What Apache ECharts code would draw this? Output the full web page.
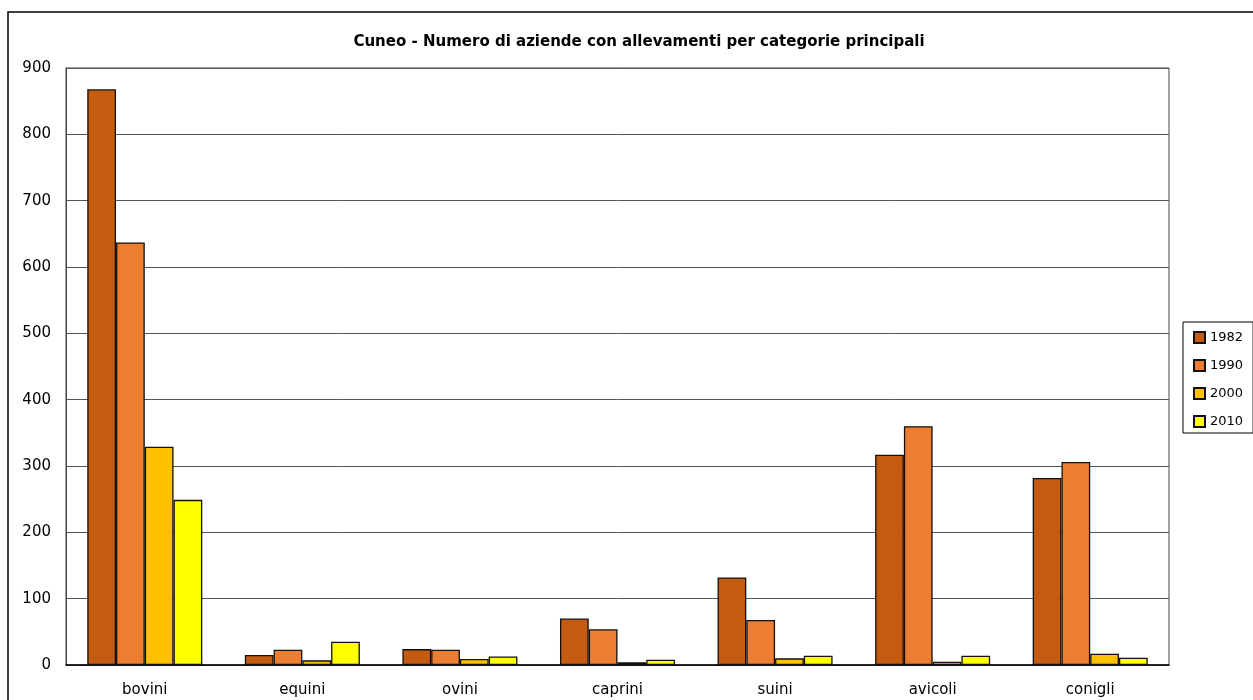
<!DOCTYPE html>
<html>
<head>
<meta charset="utf-8">
<script src="https://cdn.jsdelivr.net/npm/echarts@6/dist/echarts.min.js"></script>
<style>
html,body{margin:0;padding:0;background:#fff;}
#chart{width:1253px;height:700px;}
</style>
</head>
<body>
<div id="chart"></div>
<script>
const categories = ['bovini', 'equini', 'ovini', 'caprini', 'suini', 'avicoli', 'conigli'];
const years = ['1982', '1990', '2000', '2010'];
const v1982 = [868, 15, 24, 70, 132, 317, 282];
const v1990 = [637, 23, 23, 54, 68, 360, 306];
const v2000 = [329, 7, 9, 4, 10, 5, 17];
const v2010 = [249, 35, 13, 8, 14, 14, 11];
const yTicks = [0, 100, 200, 300, 400, 500, 600, 700, 800, 900];

const colors = ['#C55A11', '#ED7D31', '#FFC000', '#FFFF00'];
const seriesValues = [v1982, v1990, v2000, v2010];
const FONT = 'DejaVu Sans';

const chart = echarts.init(document.getElementById('chart'), null, {renderer: 'canvas'});
chart.setOption({
  backgroundColor: '#fff',
  animation: false,
  title: {
    text: 'Cuneo - Numero di aziende con allevamenti per categorie principali',
    left: 634, top: 30, textAlign: 'center',
    textStyle: {fontFamily: FONT, fontSize: 15, fontWeight: 'bold', color: '#000'}
  },
  graphic: [{
    type: 'rect', z: 100, silent: true,
    shape: {x: 8, y: 12, width: 1400, height: 800},
    style: {fill: 'none', stroke: '#000', lineWidth: 1.5}
  }],
  legend: {
    orient: 'vertical',
    left: 1183, top: 322,
    padding: [9, 10, 5, 10],
    borderColor: '#000', borderWidth: 1,
    icon: 'rect',
    itemWidth: 11, itemHeight: 11, itemGap: 15,
    textStyle: {fontFamily: FONT, fontSize: 13, color: '#000'},
    data: years
  },
  grid: {
    left: 66, top: 68, right: 84, bottom: 35,
    show: true, borderColor: '#444', borderWidth: 1
  },
  xAxis: {
    type: 'category', data: categories,
    axisLine: {show: true, lineStyle: {color: '#000', width: 1.5}},
    axisTick: {show: false},
    axisLabel: {fontFamily: FONT, fontSize: 15, color: '#000', margin: 18}
  },
  yAxis: {
    type: 'value', min: yTicks[0], max: yTicks[yTicks.length - 1], interval: 100,
    axisLine: {show: true, lineStyle: {color: '#444', width: 1}},
    axisTick: {show: false},
    axisLabel: {fontFamily: FONT, fontSize: 15, color: '#000', margin: 15},
    splitLine: {show: true, lineStyle: {color: '#555', width: 1}}
  },
  series: years.map((y, i) => ({
    name: y, type: 'bar', data: seriesValues[i],
    barGap: '0%', barCategoryGap: '27%',
    itemStyle: {color: colors[i], borderColor: '#111', borderWidth: 1.3}
  }))
});
</script>
</body>
</html>
